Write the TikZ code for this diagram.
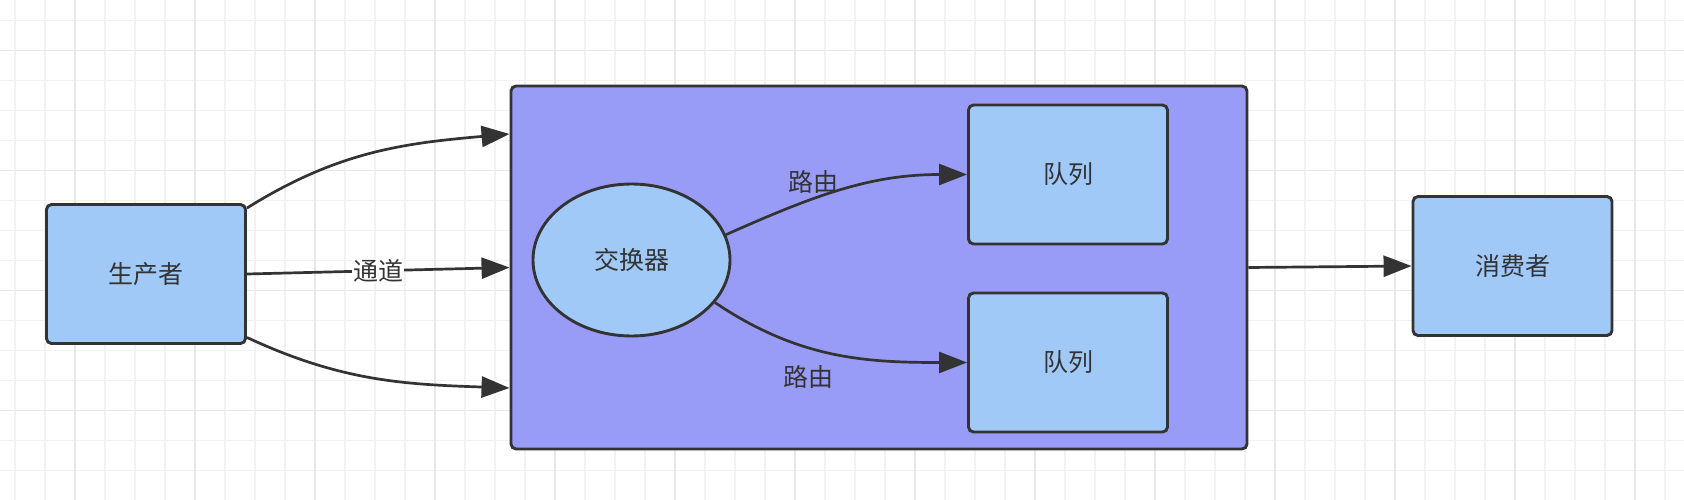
\documentclass[tikz,border=0pt]{standalone}
\usepackage{fontspec}
\newfontfamily\cjk{Noto Sans CJK SC}
\usetikzlibrary{arrows.meta}
\usetikzlibrary{shapes.geometric}
\definecolor{mlight}{rgb}{0.63, 0.79, 0.97}
\definecolor{mviolet}{rgb}{0.60, 0.61, 0.97}
\definecolor{mdark}{rgb}{0.2, 0.2, 0.2}
\definecolor{mgrid}{rgb}{0.95, 0.95, 0.95}
\definecolor{mgridmajor}{rgb}{0.91, 0.91, 0.91}
\tikzset{box/.style = {draw = mdark, line width = 2.9, fill = mlight, rounded corners = 5, minimum width = 199, minimum height = 139, font = \cjk\fontsize{25}{30}\selectfont, text = mdark}}
\tikzset{link/.style = {draw = mdark, line width = 2.7, -{Triangle[length = 28pt, width = 21pt]}}}
\tikzset{lbl/.style = {font = \cjk\fontsize{25}{30}\selectfont, text = mdark, inner sep = 1}}

\begin{document}
\begin{tikzpicture}[x = 1pt, y = -1pt]
        \useasboundingbox [fill = white] (0, 0) rectangle (1684, 500);
        % grid
        \foreach \gx in {15, 45, ..., 1684} \draw [mgrid, line width = 1.2] (\gx, 0) -- (\gx, 500);
        \foreach \gy in {20.7, 50.7, ..., 500} \draw [mgrid, line width = 1.2] (0, \gy) -- (1684, \gy);
        \foreach \gx in {75, 195, ..., 1684} \draw [mgridmajor, line width = 1.2] (\gx, 0) -- (\gx, 500);
        \foreach \gy in {50.7, 170.7, 290.7, 410.7} \draw [mgridmajor, line width = 1.2] (0, \gy) -- (1684, \gy);
        % nodes
        \node [box, fill = mviolet, minimum width = 736, minimum height = 363] (broker) at (879, 267.5) {};
        \node [box] (producer) at (146, 274) {生产者};
        \node [box] (queue1) at (1068, 174.5) {队列};
        \node [box] (queue2) at (1068, 362.5) {队列};
        \node [box] (consumer) at (1512.5, 266) {消费者};
        \node [box, ellipse, minimum width = 197, minimum height = 152, inner sep = 0] (exchange) at (631.5, 260) {交换器};
        % edges
        \draw [link] ([yshift = -5pt]producer.north east) to [out = 32, in = 185] ([yshift = 133.5pt]broker.west);
        \draw [link] (producer.east) -- node [lbl, fill = white] (channel) {通道} (broker.west);
        \draw [link] ([yshift = 7.5pt]producer.south east) to [out = -25, in = 178] ([yshift = -120.5pt]broker.west);
        \draw [link] (exchange.15) to [out = 24, in = 180] (queue1.west);
        \draw [link] (exchange.-27) to [out = -34, in = 180] (queue2.west);
        \node [lbl] (route1) at (813, 182) {路由};
        \node [lbl] (route2) at (808, 377) {路由};
        \draw [link] (broker.east) -- (consumer.west);
      \end{tikzpicture}
\end{document}
